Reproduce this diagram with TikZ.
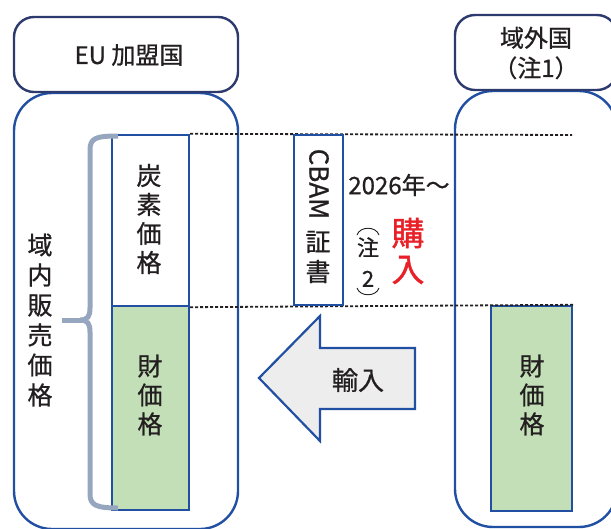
\documentclass[tikz,border=0pt]{standalone}
\usepackage{fontspec}
\setmainfont{Noto Sans CJK JP}[FakeBold=0.8]
\newfontfamily\redfont{Noto Sans CJK JP}[FakeBold=1.2]
\definecolor{bblue}{RGB}{33,80,163}
\definecolor{navy}{RGB}{44,58,110}
\definecolor{gfill}{RGB}{195,223,183}
\definecolor{bracec}{RGB}{150,166,190}
\definecolor{afill}{RGB}{237,237,237}
\definecolor{redc}{RGB}{232,32,40}
\definecolor{ink}{RGB}{35,31,32}
\begin{document}
\begin{tikzpicture}[x=1pt,y=-1pt,
  hdr/.style={draw=navy, line width=2.4pt, rounded corners=20pt, fill=white, inner sep=0pt},
  body/.style={draw=bblue, line width=2.4pt, rounded corners=38pt, inner sep=0pt},
  col/.style={draw=bblue, line width=2.4pt, inner sep=0pt},
  txt/.style={text=ink, inner sep=0pt, align=center},
  vtxt/.style={txt, font=\fontsize{25}{29}\selectfont},
  dotline/.style={draw=ink, line width=1.8pt, dash pattern=on 3pt off 2pt},
  parenarc/.style={draw=ink, line width=0.9pt}
]
\useasboundingbox (0,0) rectangle (611,528);
\clip (0,0) rectangle (611,528);

% big bodies
\node[body, minimum width=224pt, minimum height=436pt] (eubody) at (126,311) {};
\node[body, minimum width=162pt, minimum height=436pt] (exbody) at (536,309) {};

% headers
\node[hdr, minimum width=224pt, minimum height=75pt] (euhead) at (126,54.5) {};
\node[txt, font=\fontsize{24}{28}\selectfont] (eutxt) at (129,55) {EU 加盟国};
\node[hdr, minimum width=162pt, minimum height=75pt] (exhead) at (536,52.5) {};
\node[txt, font=\fontsize{24}{30}\selectfont] (extxt) at (536,53) {域外国\\（注1）};

% left column
\node[col, fill=white, minimum width=77pt, minimum height=171pt] (carbon) at (150.5,220.5) {};
\node[col, fill=gfill, minimum width=77pt, minimum height=204pt] (lgood) at (150.5,408) {};
\node[vtxt] (carbontxt) at (149,219) {炭\\素\\価\\格};
\node[vtxt] (lgoodtxt) at (150,395) {財\\価\\格};

% right green
\node[col, fill=gfill, minimum width=81pt, minimum height=205pt] (rgood) at (531.5,408.5) {};
\node[vtxt] (rgoodtxt) at (532,395) {財\\価\\格};

% dotted lines
\coordinate (dtopend) at (572,135);
\draw[dotline] (carbon.north east) -- (dtopend);
\draw[dotline] (carbon.south east) -- (rgood.north east);

% CBAM box
\node[col, fill=white, minimum width=49pt, minimum height=170pt] (cbam) at (318.5,220) {};
\node[txt, rotate=-90, font=\fontsize{26}{29}\selectfont] (cbamtxt) at (319,184) {CBAM};
\node[txt, font=\fontsize{25}{30}\selectfont] (shotxt) at (318,257) {証\\書};

% 2026
\node[txt, font=\fontsize{24}{28}\selectfont] (yeartxt) at (399,185) {2026年～};
\node[txt, font=\fontsize{22}{31}\selectfont] (note2) at (368,262) {注\\2};
\draw[parenarc] (357,235) .. controls (360,226) and (376,226) .. (379,235);
\draw[parenarc] (357,288) .. controls (360,297) and (376,297) .. (379,288);
\node[txt, text=redc, font=\redfont\fontsize{33}{36}\selectfont] (buytxt) at (408,251) {購\\入};

% brace
\draw[bracec, line width=5pt] (118,136) .. controls (96,136) and (90,138) .. (90,150) -- (90,308)
  .. controls (90,316) and (88,320) .. (80,320) .. controls (88,320) and (90,324) .. (90,332)
  -- (90,494) .. controls (90,505) and (96,508) .. (118,508);
\draw[bracec, line width=5pt] (62,320) -- (82,320);
\node[vtxt, font=\fontsize{25}{30}\selectfont] (domtxt) at (40,320) {域\\内\\販\\売\\価\\格};

% import arrow
\draw[draw=bblue, fill=afill, line width=2.2pt, line join=miter]
  (259,378) -- (320,316) -- (320,348) -- (415,348) -- (415,409) -- (320,409) -- (320,441) -- cycle;
\node[txt, font=\fontsize{26}{30}\selectfont] (imptxt) at (358,380) {輸入};
\end{tikzpicture}
\end{document}
